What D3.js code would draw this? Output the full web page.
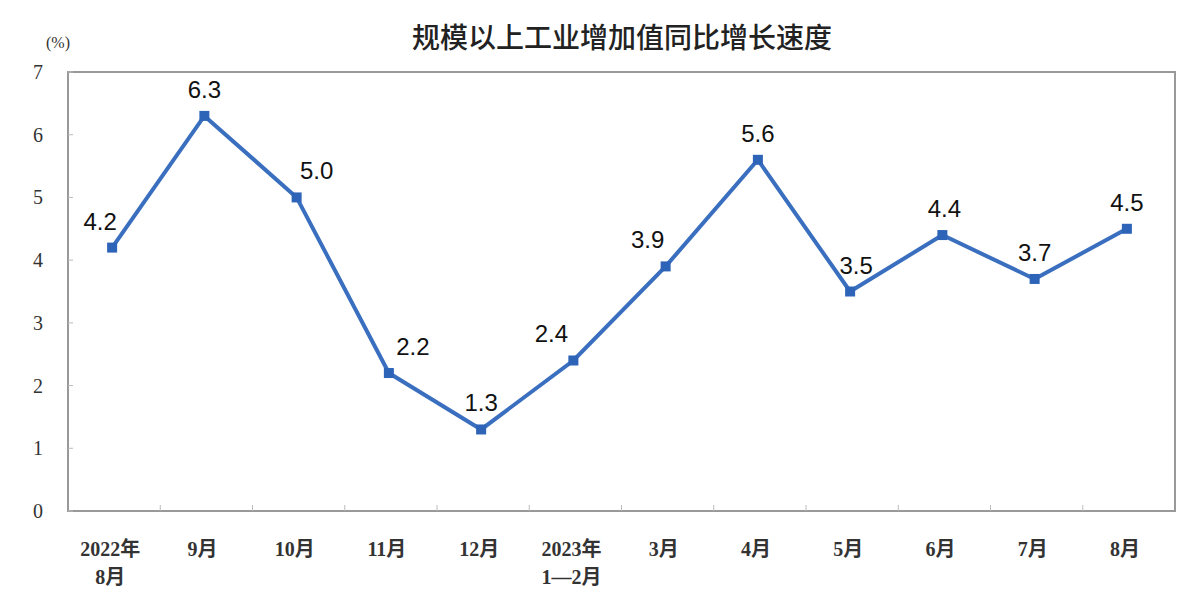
<!DOCTYPE html>
<html><head><meta charset="utf-8">
<script src="https://cdn.jsdelivr.net/npm/d3@7"></script>
<style>body{margin:0;background:#fff}</style></head>
<body><svg id="c" width="1186" height="616"></svg>
<script>
const categories=["2022年\n8月","9月","10月","11月","12月","2023年\n1—2月","3月","4月","5月","6月","7月","8月"];
const values=[4.2,6.3,5.0,2.2,1.3,2.4,3.9,5.6,3.5,4.4,3.7,4.5];
const yTicks=[0,1,2,3,4,5,6,7];
const labelDx=[-12,0,20,24,0,-22,-18,0,6,2,0,0];
const svg=d3.select("#c");
const L=68,R=1175,T=72,B=511;
const x=d3.scaleBand().domain(d3.range(categories.length)).range([L,R]);
const y=d3.scaleLinear().domain([0,7]).range([B,T]);
const serif="'Liberation Serif','Noto Sans CJK SC',serif";
svg.append("rect").attr("x",L).attr("y",T).attr("width",R-L).attr("height",B-T).attr("fill","none").attr("stroke","#999").attr("stroke-width",2);
yTicks.forEach(t=>{
  svg.append("line").attr("x1",L).attr("x2",L+5).attr("y1",y(t)).attr("y2",y(t)).attr("stroke","#bbb");
  svg.append("text").attr("x",L-30).attr("y",y(t)+7).attr("text-anchor","middle").attr("font-family",serif).attr("font-size",20).attr("fill","#333").text(t);
});
d3.range(1,categories.length).forEach(i=>{
  svg.append("line").attr("x1",x(i)).attr("x2",x(i)).attr("y1",B).attr("y2",B-6).attr("stroke","#bbb");
});
categories.forEach((c,i)=>{
  c.split("\n").forEach((s,j)=>{
    svg.append("text").attr("x",x(i)+x.bandwidth()/2-4).attr("y",B+45+j*28).attr("text-anchor","middle").attr("font-family",serif).attr("font-size",20).attr("font-weight","bold").attr("fill","#333").text(s);
  });
});
svg.append("text").attr("x",58).attr("y",48).attr("text-anchor","middle").attr("font-family",serif).attr("font-size",16).attr("fill","#333").text("(%)");
svg.append("text").attr("x",622).attr("y",48).attr("text-anchor","middle").attr("font-family","'Noto Sans CJK SC',sans-serif").attr("font-size",28).attr("font-weight","500").attr("fill","#222").text("规模以上工业增加值同比增长速度");
const cx=i=>x(i)+x.bandwidth()/2-2;
svg.append("path").datum(values).attr("d",d3.line().x((d,i)=>cx(i)).y(d=>y(d))).attr("fill","none").attr("stroke","#3a6fbf").attr("stroke-width",4);
svg.selectAll(".m").data(values).enter().append("rect").attr("x",(d,i)=>cx(i)-5).attr("y",d=>y(d)-5).attr("width",10).attr("height",10).attr("fill","#2e64b8");
svg.selectAll(".l").data(values).enter().append("text").attr("x",(d,i)=>cx(i)+labelDx[i]).attr("y",d=>y(d)-18).attr("text-anchor","middle").attr("font-family","'Liberation Sans',Arial,sans-serif").attr("font-size",24).attr("fill","#111").text(d=>d.toFixed(1));
</script></body></html>
